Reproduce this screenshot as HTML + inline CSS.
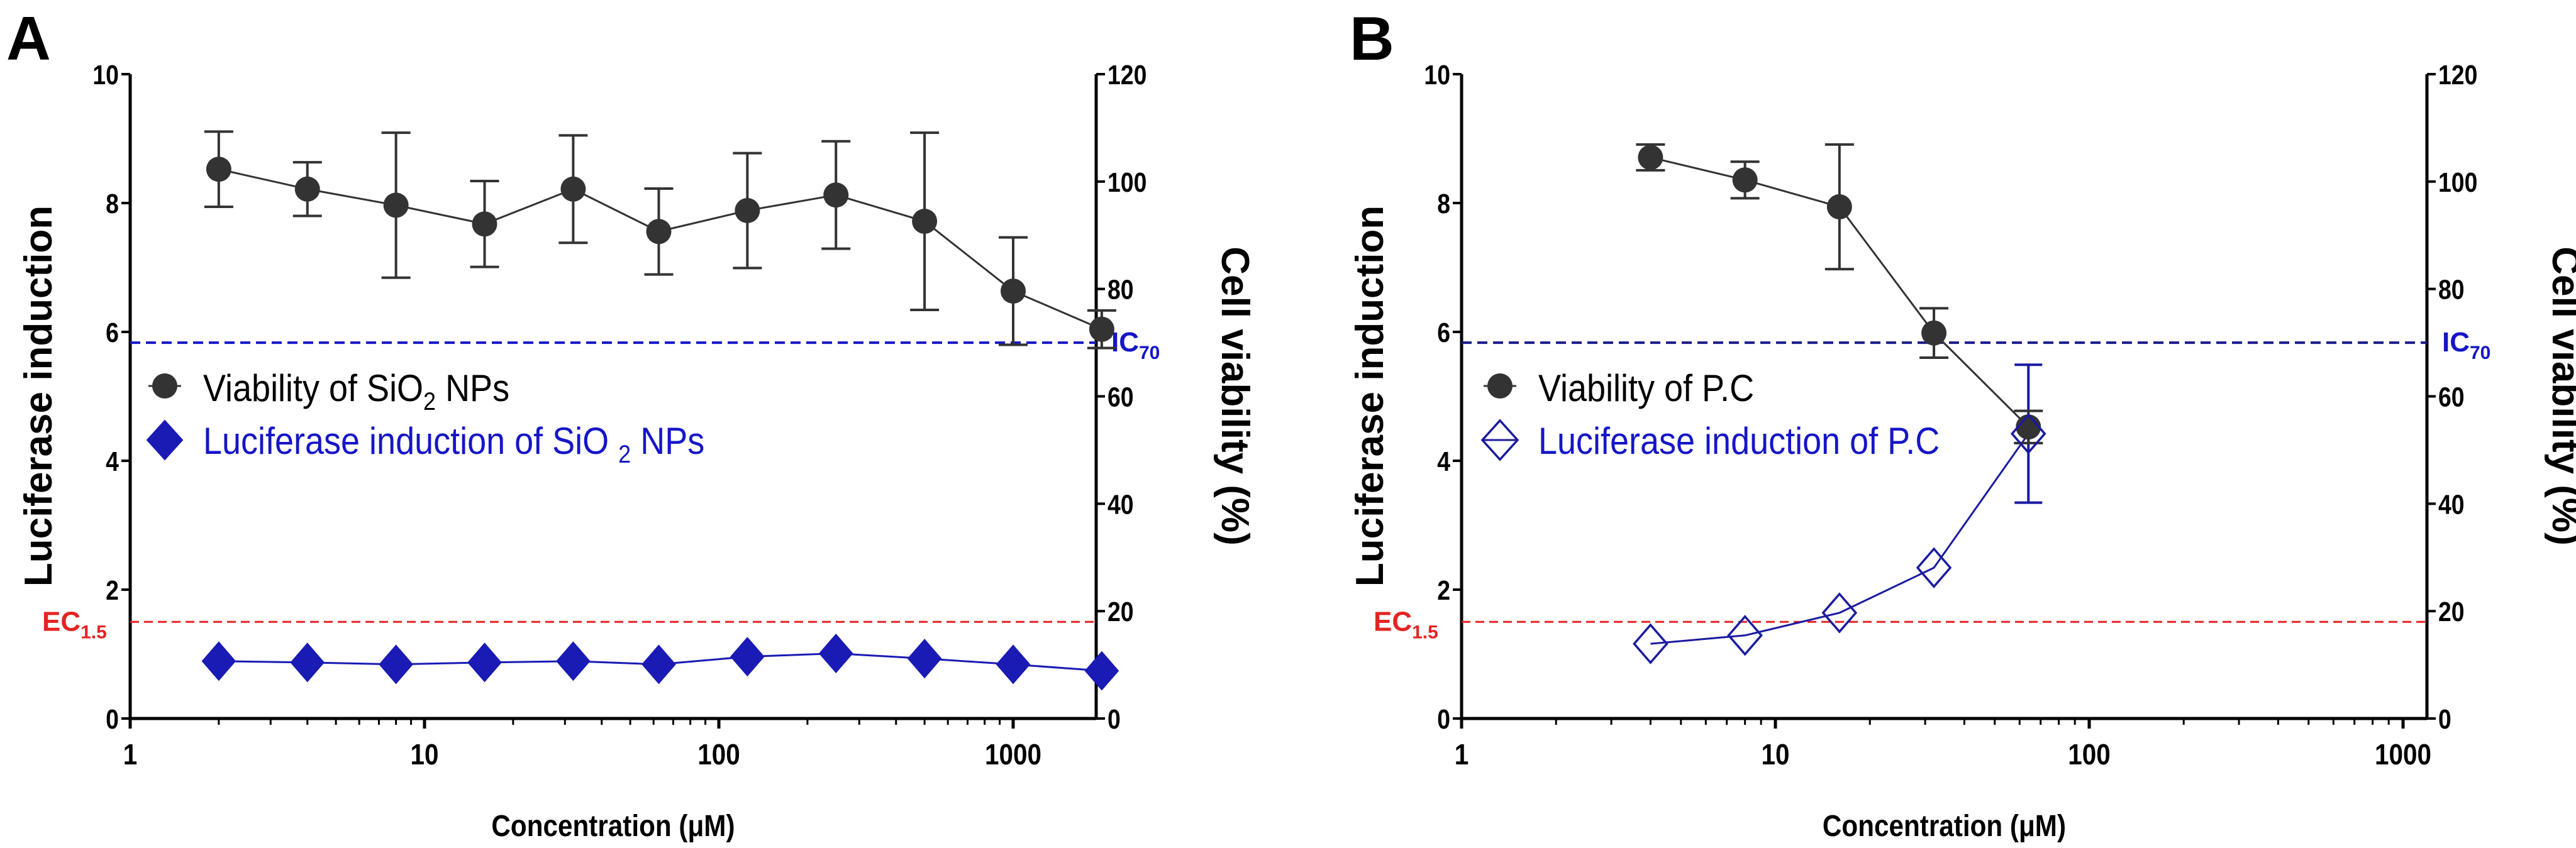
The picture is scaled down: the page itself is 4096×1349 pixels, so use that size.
<!DOCTYPE html>
<html><head><meta charset="utf-8"><style>
html,body{margin:0;padding:0;background:#fff;}
svg{display:block;font-family:"Liberation Sans",Arial,sans-serif;}
</style></head><body>
<svg id="fig" width="4096" height="1349" viewBox="0 0 4096 1349"></svg>
<script>
// ---- data ----
const concA = [2,4,8,16,32,62.5,125,250,500,1000,2000];
const viabA = [102.3,98.6,95.6,92.1,98.6,90.7,94.6,97.5,92.6,79.6,72.5];
const viabErrA = [7,5,13.5,8,10,8,10.7,10,16.5,10,3.5];
const lucA = [0.89,0.87,0.84,0.87,0.89,0.84,0.96,1.01,0.93,0.84,0.74];
const concB = [4,8,16,32,64];
const viabB = [104.5,100.3,95.3,71.8,54.3];
const viabErrB = [2.4,3.4,11.6,4.6,3];
const lucB = [1.16,1.29,1.64,2.34,4.42];
const lucErrB = [0,0,0,0,1.07];
const leftTicks = [0,2,4,6,8,10];
const rightTicks = [0,20,40,60,80,100,120];
const xTicksA = [1,10,100,1000];
const xTicksB = [1,10,100,1000];
const ec = 1.5, ic = 70;

const NS = "http://www.w3.org/2000/svg";
const svg = document.getElementById('fig');
function mk(tag, attrs, parent, text){
  const e = document.createElementNS(NS, tag);
  for (const k in attrs) e.setAttribute(k, attrs[k]);
  if (text !== undefined) e.textContent = text;
  (parent||svg).appendChild(e);
  return e;
}

function panel(cfg){
  const g = mk('g', {});
  
  
  const L = cfg.left, R = cfg.right, y0 = 1143, y10 = 118;
  const xs = v => L + Math.log10(v) * cfg.dec;
  const yl = v => y0 - (y0 - y10) * v / 10;
  const yr = v => y0 - (y0 - y10) * v / 120;

  let t = mk('text', {x: cfg.letterX, y: 95, 'font-size': 98, 'font-weight': 'bold'}, g, cfg.letter);
  
  

  let ax = mk('path', {d:`M${L},${y10}V${y0}H${R}`, stroke:'#000', 'stroke-width':5, fill:'none'}, g);
  
  
  let ar = mk('line', {x1:R, y1:y10, x2:R, y2:y0+2, stroke:'#000', 'stroke-width':5}, g);
  
  

  leftTicks.forEach(v=>{
    mk('line',{x1:L-14,y1:yl(v),x2:L,y2:yl(v),stroke:'#000','stroke-width':4},g);
    const tl = mk('text',{x:L-18,y:yl(v)+16,'font-size':44,'font-weight':'bold','text-anchor':'end',transform:`translate(${L-18},0) scale(0.85,1) translate(${-(L-18)},0)`},g,String(v));
    
    
  });
  rightTicks.forEach(v=>{
    mk('line',{x1:R,y1:yr(v),x2:R+14,y2:yr(v),stroke:'#000','stroke-width':4},g);
    const tr = mk('text',{x:R+18,y:yr(v)+16,'font-size':44,'font-weight':'bold',transform:`translate(${R+18},0) scale(0.85,1) translate(${-(R+18)},0)`},g,String(v));
    
    
  });
  for (let d=1; d<=1000; d*=10){
    for (let m=1;m<10;m++){
      const v=d*m; const x=xs(v);
      if (x>R+1) break;
      mk('line',{x1:x,y1:y0,x2:x,y2:y0+(m===1?16:10),stroke:'#000','stroke-width':m===1?5:3},g);
    }
  }
  cfg.xticks.forEach(v=>{
    const tx = mk('text',{x:xs(v),y:1216,'font-size':46,'font-weight':'bold','text-anchor':'middle',transform:`translate(${xs(v)},0) scale(0.88,1) translate(${-xs(v)},0)`},g,String(v));
    
    
  });

  let yt = mk('text',{x:0,y:0,'font-size':62,'font-weight':'bold','text-anchor':'middle',transform:`translate(${L-125},630) rotate(-90)`},g,'Luciferase induction');
  
  
  let rt = mk('text',{x:0,y:0,'font-size':62,'font-weight':'bold','text-anchor':'middle',transform:`translate(${R+200},630) rotate(90)`},g,'Cell viability (%)');
  
  
  const cx = (L+R)/2;
  let xt = mk('text',{x:cx,y:1330,'font-size':48,'font-weight':'bold','text-anchor':'middle',transform:`translate(${cx},0) scale(0.88,1) translate(${-cx},0)`},g,'Concentration (\u03BCM)');
  
  

  let ecl = mk('line',{x1:L,y1:yl(ec),x2:R,y2:yl(ec),stroke:'#e52222','stroke-width':3,'stroke-dasharray':'14,8'},g);
  
  
  let ect = mk('text',{x:L-140,y:yl(ec)+14,'font-size':44,'font-weight':'bold',fill:'#e52222'},g);
  
  
  ect.innerHTML = 'EC<tspan font-size="30" dy="12">1.5</tspan>';
  let icl = mk('line',{x1:L,y1:yr(ic),x2:R,y2:yr(ic),stroke:cfg.icColor,'stroke-width':4,'stroke-dasharray':'16,9'},g);
  
  
  let ict = mk('text',{x:R+24,y:yr(ic)+14,'font-size':44,'font-weight':'bold',fill:'#1515c8'},g);
  
  
  ict.innerHTML = 'IC<tspan font-size="30" dy="12">70</tspan>';

  const blue = cfg.lucColor;
  const lp = cfg.conc.map((c,i)=>`${xs(c)},${yl(cfg.luc[i])}`).join(' ');
  let ll = mk('polyline',{points:lp,fill:'none',stroke:blue,'stroke-width':3},g);
  
  
  cfg.conc.forEach((c,i)=>{
    const x=xs(c);
    if (cfg.lucErr && cfg.lucErr[i]>0){
      const e=cfg.lucErr[i];
      const eb = mk('path',{d:`M${x},${yl(cfg.luc[i]+e)}V${yl(cfg.luc[i]-e)}M${x-22},${yl(cfg.luc[i]+e)}h44M${x-22},${yl(cfg.luc[i]-e)}h44`,stroke:blue,'stroke-width':4,fill:'none'},g);
      
      
    }
  });
  const vp = cfg.conc.map((c,i)=>`${xs(c)},${yr(cfg.viab[i])}`).join(' ');
  let vl = mk('polyline',{points:vp,fill:'none',stroke:'#333','stroke-width':3},g);
  
  
  cfg.conc.forEach((c,i)=>{
    const x=xs(c), v=cfg.viab[i], e=cfg.viabErr[i];
    const eb = mk('path',{d:`M${x},${yr(v+e)}V${yr(v-e)}M${x-23},${yr(v+e)}h46M${x-23},${yr(v-e)}h46`,stroke:'#333','stroke-width':4,fill:'none'},g);
    
    
    const pt = mk('circle',{cx:x,cy:yr(v),r:20,fill:'#333'},g);
    
    
  });
  cfg.conc.forEach((c,i)=>{
    const x=xs(c), y=yl(cfg.luc[i]);
    const d = `M${x},${y-30}L${x+26},${y}L${x},${y+30}L${x-26},${y}Z`;
    const pt = mk('path',{d:d,fill:cfg.hollow?'#fff':blue,'fill-opacity':cfg.hollow?0:1,stroke:blue,'stroke-width':cfg.hollow?3.5:2},g);
    
    
  });

  const lg = mk('g',{},g);
  
  
  const mx = cfg.legX, my1 = 614, my2 = 700;
  mk('line',{x1:mx-26,y1:my1,x2:mx+26,y2:my1,stroke:'#333','stroke-width':3},lg);
  let lc = mk('circle',{cx:mx,cy:my1,r:20,fill:'#333'},lg);
  
  
  if (cfg.hollow) mk('line',{x1:mx-28,y1:my2,x2:mx+28,y2:my2,stroke:blue,'stroke-width':3},lg);
  let ld = mk('path',{d:`M${mx},${my2-31}L${mx+28},${my2}L${mx},${my2+31}L${mx-28},${my2}Z`,fill:cfg.hollow?'none':blue,stroke:blue,'stroke-width':cfg.hollow?3.5:2},lg);
  
  
  const tx0 = mx+61;
  let l1 = mk('text',{x:tx0,y:638,'font-size':60,fill:'#000',transform:`translate(${tx0},0) scale(0.9,1) translate(${-tx0},0)`},lg);
  
  
  l1.innerHTML = cfg.leg1;
  let l2 = mk('text',{x:tx0,y:722,'font-size':60,fill:'#1515c8',transform:`translate(${tx0},0) scale(0.9,1) translate(${-tx0},0)`},lg);
  
  
  l2.innerHTML = cfg.leg2;
}

panel({name:'panel-a',letter:'A',letterX:10,left:207,right:1743,dec:468,xticks:xTicksA,
  conc:concA,viab:viabA,viabErr:viabErrA,luc:lucA,lucErr:null,hollow:false,
  lucColor:'#1a1ab4',icColor:'#1515c8',legX:262,
  leg1:'Viability of SiO<tspan font-size="40" dy="14">2</tspan><tspan dy="-14"> NPs</tspan>',
  leg2:'Luciferase induction of SiO <tspan font-size="40" dy="14">2</tspan><tspan dy="-14"> NPs</tspan>'});
panel({name:'panel-b',letter:'B',letterX:2146,left:2324,right:3859,dec:499,xticks:xTicksB,
  conc:concB,viab:viabB,viabErr:viabErrB,luc:lucB,lucErr:lucErrB,hollow:true,
  lucColor:'#1a1aa0',icColor:'#1a1a8c',legX:2385,
  leg1:'Viability of P.C',
  leg2:'Luciferase induction of P.C'});
</script>
</body></html>
